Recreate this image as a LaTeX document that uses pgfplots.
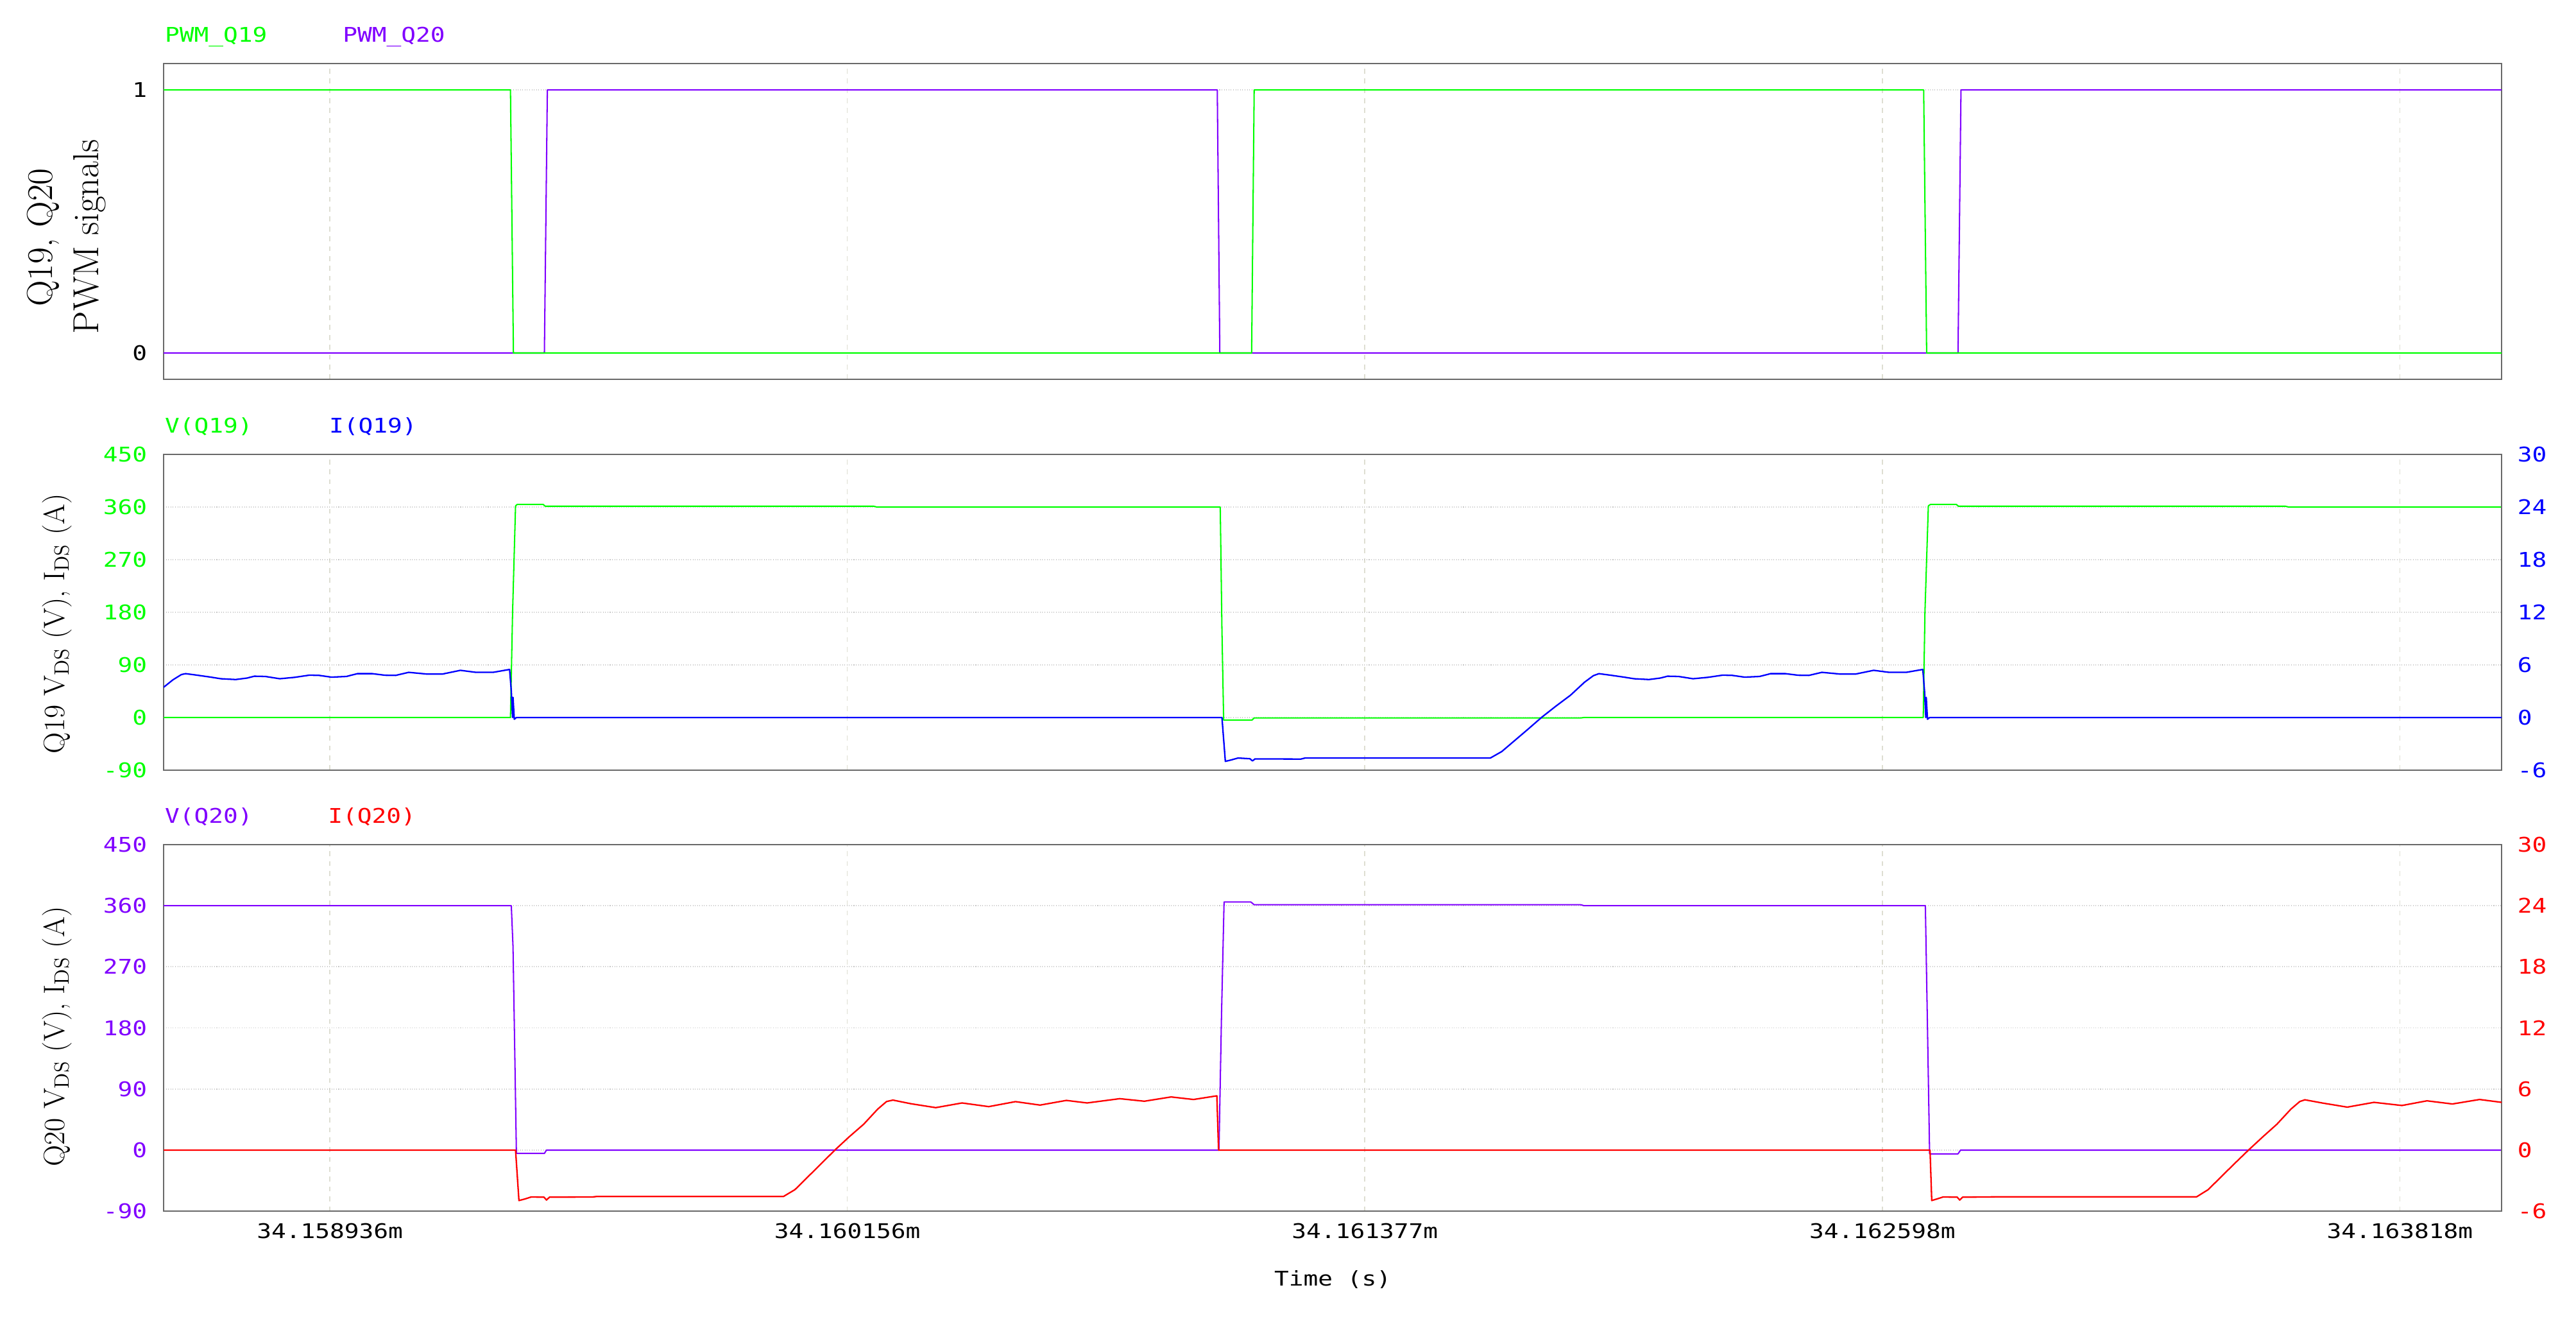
\documentclass[border=0pt]{standalone}
\usepackage{pgfplots}
\pgfplotsset{compat=1.18}
\usepackage{fontspec}
\newfontfamily\mono[FakeStretch=1.2]{DejaVu Sans Mono}
\definecolor{cgreen}{RGB}{0,255,0}
\definecolor{cpurple}{RGB}{128,0,255}
\definecolor{cblue}{RGB}{0,0,255}
\definecolor{cred}{RGB}{255,0,0}
\definecolor{framegray}{RGB}{105,105,105}
\definecolor{gridx}{RGB}{222,222,210}
\definecolor{gridy}{RGB}{200,200,200}
\newcommand\tickfont{\mono\fontsize{12.3}{14}\selectfont}
\pgfplotsset{
  base/.style={scale only axis, width=1423.1pt, xmin=-0.392, xmax=5.122,
    xtick={0,1.2205,2.441,3.6615,4.882},
    major tick length=0pt, tick style={draw=none},
    tick label style={font=\tickfont},
    xticklabel style={anchor=north, inner sep=0pt, yshift=-7pt, text=black},
    yticklabel style={anchor=east, inner sep=0pt, xshift=-9.9pt},
    axis line style={draw=framegray, line width=1pt},
    xmajorgrids, ymajorgrids,
    major x grid style={draw=gridx, dashed, line width=0.6pt},
    major y grid style={draw=gridy, densely dotted, line width=0.7pt},
    clip=true},
  nox/.style={xticklabel style={opacity=0, text opacity=0}},
  rightax/.style={scale only axis, width=1423.1pt, xmin=-0.392, xmax=5.122,
    axis x line=none, axis y line*=right,
    major tick length=0pt, tick style={draw=none},
    tick label style={font=\tickfont},
    yticklabel style={anchor=west, inner sep=0pt, xshift=9.5pt},
    axis line style={draw=framegray, line width=1pt},
    ymin=-6, ymax=30, ytick={-6,0,6,12,18,24,30},
    yticklabels={-6,0,6,12,18,24,30}, clip=true},
  vleft/.style={ymin=-90, ymax=450, ytick={-90,0,90,180,270,360,450},
    yticklabels={-90,0,90,180,270,360,450}}
}
\begin{document}
\begin{tikzpicture}
\useasboundingbox (0,-801pt) rectangle (1568pt,0pt);
% ---------------- Panel 1 ----------------
\begin{axis}[base, nox, at={(99.6pt,-230.8pt)}, anchor=south west, height=192.1pt,
  ymin=-0.1, ymax=1.1, ytick={0,1}, yticklabels={0,1},
  yticklabel style={text=black}]
\addplot[cpurple, line width=0.8pt, line join=round] coordinates {
(-0.392,0) (0.506,0) (0.513,1) (2.093,1) (2.099,0) (3.840,0) (3.847,1) (5.122,1)};
\addplot[cgreen, line width=0.8pt, line join=round] coordinates {
(-0.392,1) (0.426,1) (0.433,0) (2.174,0) (2.180,1) (3.759,1) (3.766,0) (5.122,0)};
\end{axis}
% ---------------- Panel 2 ----------------
\begin{axis}[base, nox, vleft, at={(99.6pt,-468.6pt)}, anchor=south west, height=192.1pt,
  yticklabel style={text=cgreen}]
\addplot[cgreen, line width=0.8pt, line join=round] coordinates {
(-0.392,0) (0.426,0) (0.431,180) (0.438,362) (0.442,364.5) (0.503,364.5) (0.508,361.4)
(1.283,361.4) (1.290,360) (2.100,360) (2.104,150) (2.108,-4.4) (2.175,-4.4) (2.180,-0.8)
(2.950,-0.8) (2.958,0) (3.758,0) (3.762,180) (3.770,362) (3.775,364.5) (3.836,364.5)
(3.841,361.4) (4.612,361.4) (4.620,360) (5.122,360)};
\end{axis}
\begin{axis}[rightax, at={(99.6pt,-468.6pt)}, anchor=south west, height=192.1pt,
  yticklabel style={text=cblue}]
\addplot[cblue, line width=0.9pt, line join=round] coordinates {
(-0.392,3.45) (-0.370,4.30) (-0.350,4.90) (-0.340,5.00) (-0.318,4.86) (-0.283,4.62)
(-0.257,4.42) (-0.222,4.33) (-0.195,4.50) (-0.178,4.71) (-0.152,4.68) (-0.118,4.42)
(-0.083,4.58) (-0.048,4.83) (-0.025,4.80) (0.004,4.60) (0.039,4.68) (0.065,5.00)
(0.100,5.00) (0.130,4.82) (0.155,4.80) (0.186,5.15) (0.230,4.95) (0.265,4.95)
(0.308,5.38) (0.343,5.16) (0.386,5.16) (0.424,5.48) (0.428,3.0) (0.431,0) (0.432,2.3)
(0.435,-0.2) (0.440,0) (2.104,0) (2.112,-5.0) (2.125,-4.85) (2.142,-4.62) (2.170,-4.70)
(2.176,-4.95) (2.182,-4.72) (2.290,-4.74) (2.300,-4.62) (2.737,-4.62) (2.764,-3.88)
(2.797,-2.52) (2.824,-1.41) (2.858,0.02) (2.892,1.31) (2.926,2.54) (2.959,4.02)
(2.980,4.77) (2.993,5.00) (3.015,4.86) (3.050,4.62) (3.076,4.42) (3.111,4.33)
(3.138,4.50) (3.155,4.71) (3.181,4.68) (3.215,4.42) (3.250,4.58) (3.285,4.83)
(3.308,4.80) (3.337,4.60) (3.372,4.68) (3.398,5.00) (3.433,5.00) (3.463,4.82)
(3.488,4.80) (3.519,5.15) (3.563,4.95) (3.598,4.95) (3.641,5.38) (3.676,5.16)
(3.719,5.16) (3.757,5.48) (3.761,3.0) (3.764,0) (3.765,2.3) (3.768,-0.2) (3.773,0)
(5.122,0)};
\end{axis}
% ---------------- Panel 3 ----------------
\begin{axis}[base, vleft, at={(99.6pt,-737.0pt)}, anchor=south west, height=223.1pt,
  xticklabels={34.158936m,34.160156m,34.161377m,34.162598m,34.163818m},
  yticklabel style={text=cpurple}]
\addplot[cpurple, line width=0.8pt, line join=round] coordinates {
(-0.392,360) (0.428,360) (0.432,300) (0.436,150) (0.440,-4.9) (0.506,-4.9) (0.511,0)
(2.097,0) (2.103,200) (2.109,365.5) (2.172,365.5) (2.180,361.4) (2.950,361.4)
(2.958,360) (3.763,360) (3.768,180) (3.773,-5.5) (3.840,-5.5) (3.846,0) (5.122,0)};
\end{axis}
\begin{axis}[rightax, at={(99.6pt,-737.0pt)}, anchor=south west, height=223.1pt,
  yticklabel style={text=cred}]
\addplot[cred, line width=0.9pt, line join=round] coordinates {
(-0.392,0) (0.438,0) (0.446,-4.95) (0.460,-4.80) (0.475,-4.60) (0.505,-4.62)
(0.511,-4.90) (0.518,-4.62) (0.620,-4.60) (0.630,-4.55) (1.070,-4.55) (1.097,-3.88)
(1.130,-2.52) (1.157,-1.41) (1.191,0) (1.225,1.31) (1.259,2.54) (1.292,4.02)
(1.313,4.77) (1.328,4.91) (1.371,4.55) (1.429,4.17) (1.491,4.63) (1.554,4.27)
(1.617,4.76) (1.675,4.42) (1.737,4.88) (1.786,4.63) (1.863,5.05) (1.921,4.80)
(1.984,5.22) (2.037,4.97) (2.092,5.33) (2.096,0) (3.774,0) (3.778,-4.95) (3.790,-4.80)
(3.805,-4.60) (3.838,-4.62) (3.844,-4.90) (3.851,-4.62) (3.960,-4.58) (4.403,-4.58)
(4.430,-3.88) (4.463,-2.52) (4.490,-1.41) (4.525,0) (4.559,1.31) (4.592,2.54)
(4.625,4.02) (4.646,4.77) (4.658,4.94) (4.700,4.62) (4.758,4.22) (4.821,4.69)
(4.887,4.38) (4.946,4.84) (5.006,4.53) (5.070,4.97) (5.122,4.69)};
\end{axis}
% ---------------- Texts ----------------
\begin{scope}[every node/.style={inner sep=0pt, font=\tickfont}]
\node[anchor=base west, text=cgreen]  at (100.2pt,-25.7pt) {PWM\_Q19};
\node[anchor=base west, text=cpurple] at (208.5pt,-25.7pt) {PWM\_Q20};
\node[anchor=base west, text=cgreen]  at (100.2pt,-263.5pt) {V(Q19)};
\node[anchor=base west, text=cblue]   at (200.2pt,-263.5pt) {I(Q19)};
\node[anchor=base west, text=cpurple] at (100.2pt,-500.9pt) {V(Q20)};
\node[anchor=base west, text=cred]    at (199.5pt,-500.9pt) {I(Q20)};
\node[anchor=base] at (811.2pt,-782.5pt) {Time (s)};
\end{scope}
\begin{scope}[every node/.style={inner sep=0pt, rotate=90, anchor=base}]
\node at (31.9pt,-144.5pt) {\fontsize{22}{26}\selectfont Q19, Q20};
\node at (59.9pt,-144pt) {\fontsize{22}{26}\selectfont PWM signals};
\node at (39.2pt,-379.5pt) {\fontsize{18}{22}\selectfont Q19 V$_{\mathrm{DS}}$ (V), I$_{\mathrm{DS}}$ (A)};
\node at (39.2pt,-630.7pt) {\fontsize{18}{22}\selectfont Q20 V$_{\mathrm{DS}}$ (V), I$_{\mathrm{DS}}$ (A)};
\end{scope}
\end{tikzpicture}
\end{document}
